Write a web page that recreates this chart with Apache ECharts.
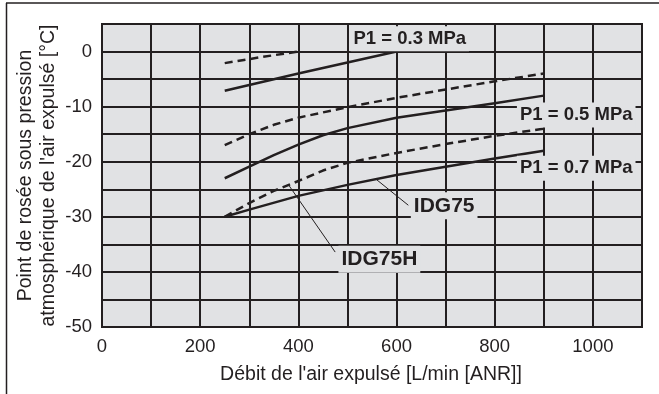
<!DOCTYPE html>
<html><head><meta charset="utf-8">
<script src="https://cdn.jsdelivr.net/npm/echarts@6/dist/echarts.min.js"></script>
<style>html,body{margin:0;padding:0;background:#fff}#c{width:659px;height:394px}</style>
</head><body><div id="c"></div>
<script>
// ---- data ----
const xTickLabels = [0, 200, 400, 600, 800, 1000];
const yTickLabels = [0, -10, -20, -30, -40, -50];

// P1 = 0.3 MPa
const p03H_x = [250, 325, 400];
const p03H_y = [-2.1, -1.0, 0];
const p03_x = [250, 400, 600];
const p03_y = [-7.1, -4.0, 0];
// P1 = 0.5 MPa
const p05H_x = [250, 300, 350, 400, 500, 600, 700, 800, 900];
const p05H_y = [-17, -15.0, -13.3, -12.0, -10.1, -8.4, -6.9, -5.4, -4.0];
const p05_x = [250, 300, 350, 400, 450, 500, 600, 700, 800, 900];
const p05_y = [-23, -20.9, -18.8, -16.9, -15.2, -13.9, -12.0, -10.7, -9.4, -8.0];
// P1 = 0.7 MPa
const p07H_x = [250, 300, 350, 400, 450, 500, 600, 700, 800, 900];
const p07H_y = [-30, -27.5, -25.3, -23.5, -21.6, -20.2, -18.4, -16.8, -15.3, -14.0];
const p07_x = [250, 300, 400, 500, 600, 700, 800, 900];
const p07_y = [-30, -28.7, -26.2, -24.2, -22.4, -20.9, -19.4, -18.0];

const annotationTexts = ['P1 = 0.3 MPa', 'P1 = 0.5 MPa', 'P1 = 0.7 MPa', 'IDG75', 'IDG75H'];
const xTitle = "Débit de l'air expulsé [L/min [ANR]]";
const yTitle = ["Point de rosée sous pression", "atmosphérique de l'air expulsé [°C]"];

// ---- chart ----
const FONT = '"Liberation Sans", Arial, Helvetica, sans-serif';
const INK = '#231f20';
const BG = '#e1e2e4';
const chart = echarts.init(document.getElementById('c'), null, {renderer: 'canvas'});
const pairs = (xs, ys) => xs.map((x, i) => [x, ys[i]]);
const lineSeries = (xs, ys, dashed) => ({
  type: 'line', data: pairs(xs, ys), showSymbol: false, symbol: 'none',
  smooth: false, silent: true, z: 3,
  lineStyle: {color: INK, width: 2.5, type: dashed ? [8, 5] : 'solid', join: 'round'}
});

chart.setOption({
  animation: false,
  grid: {left: 102, right: 17, top: 24, bottom: 67, show: true,
         backgroundColor: BG, borderColor: INK, borderWidth: 2},
  xAxis: {
    type: 'value', min: 0, max: 1100, interval: 100,
    axisLine: {show: true, lineStyle: {color: INK, width: 2}}, axisTick: {show: false},
    splitLine: {show: true, lineStyle: {color: INK, width: 2}},
    axisLabel: {color: INK, fontFamily: FONT, fontSize: 18.5, margin: 10,
      formatter: v => xTickLabels.includes(v) ? String(v) : ''}
  },
  yAxis: {
    type: 'value', min: -50, max: 5, interval: 5,
    axisLine: {show: true, lineStyle: {color: INK, width: 2}}, axisTick: {show: false},
    splitLine: {show: true, lineStyle: {color: INK, width: 2}},
    axisLabel: {color: INK, fontFamily: FONT, fontSize: 18.5, margin: 10,
      formatter: v => yTickLabels.includes(v) ? String(v) : ''}
  },
  series: [
    lineSeries(p03H_x, p03H_y, true),
    lineSeries(p03_x, p03_y, false),
    lineSeries(p05H_x, p05H_y, true),
    lineSeries(p05_x, p05_y, false),
    lineSeries(p07H_x, p07H_y, true),
    lineSeries(p07_x, p07_y, false)
  ]
});

const px = (x, y) => chart.convertToPixel({gridIndex: 0}, [x, y]);
function leader(a, b) {
  const p = px(a[0], a[1]), q = px(b[0], b[1]);
  return {type: 'line', z: 50, silent: true,
    shape: {x1: p[0], y1: p[1], x2: q[0], y2: q[1]},
    style: {stroke: INK, lineWidth: 1}};
}
function label(text, x, y, size) {
  const p = px(x, y);
  return {type: 'text', z: 60, silent: true, x: p[0], y: p[1],
    style: {text: text, fill: INK, font: 'bold ' + size + 'px ' + FONT,
      align: 'center', verticalAlign: 'middle', backgroundColor: BG, padding: [3, 3]}};
}
const g = [
  {type: 'line', silent: true, shape: {x1: 6, y1: 3, x2: 659, y2: 3}, style: {stroke: INK, lineWidth: 1.5}},
  {type: 'line', silent: true, shape: {x1: 6.5, y1: 3, x2: 6.5, y2: 394}, style: {stroke: INK, lineWidth: 1.5}},
  leader([560, -23.3], [624, -27.9]),
  leader([380, -24.2], [475, -36.4]),
  label(annotationTexts[0], 627, 2.3, 18.5),
  label(annotationTexts[1], 966, -11.5, 18.5),
  label(annotationTexts[2], 966, -21.2, 18.5),
  label(annotationTexts[3], 697, -28.0, 21),
  label(annotationTexts[4], 565, -37.7, 21),
  {type: 'text', silent: true, x: 371, y: 375,
    style: {text: xTitle, fill: INK, font: '19.5px ' + FONT, align: 'center', verticalAlign: 'middle'}},
  {type: 'text', silent: true, x: 37, y: 175.5, rotation: Math.PI / 2,
    style: {text: yTitle.join('\n'), fill: INK, font: '19.5px ' + FONT, align: 'center',
      verticalAlign: 'middle', lineHeight: 22.5}}
];
chart.setOption({graphic: {elements: g}});
</script></body></html>
